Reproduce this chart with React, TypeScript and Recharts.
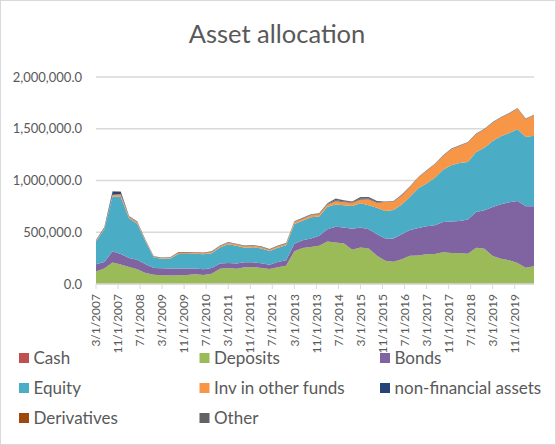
import React from 'react'
import { AreaChart, Area, XAxis, YAxis, CartesianGrid } from 'recharts'

// quarter-end dates of the series (year-month)
const quarterEnds = [
    '2007-03', '2007-06', '2007-09', '2007-12',
    '2008-03', '2008-06', '2008-09', '2008-12',
    '2009-03', '2009-06', '2009-09', '2009-12',
    '2010-03', '2010-06', '2010-09', '2010-12',
    '2011-03', '2011-06', '2011-09', '2011-12',
    '2012-03', '2012-06', '2012-09', '2012-12',
    '2013-03', '2013-06', '2013-09', '2013-12',
    '2014-03', '2014-06', '2014-09', '2014-12',
    '2015-03', '2015-06', '2015-09', '2015-12',
    '2016-03', '2016-06', '2016-09', '2016-12',
    '2017-03', '2017-06', '2017-09', '2017-12',
    '2018-03', '2018-06', '2018-09', '2018-12',
    '2019-03', '2019-06', '2019-09', '2019-12',
    '2020-03', '2020-06',
]

const cash = [
    0, 0, 0, 0, 0, 0, 0, 0, 0, 0, 0, 0, 0, 0, 0, 0, 0, 0, 0, 0, 0, 0, 0, 0, 0, 0, 0,
    0, 0, 0, 0, 0, 0, 0, 0, 0, 0, 0, 0, 0, 0, 0, 0, 0, 0, 0, 0, 0, 0, 0, 0, 0, 0, 0,
]
const deposits = [
    120000, 150000, 207000, 188000, 164000, 142000, 106000, 90000, 84000, 81000,
    84000, 87000, 93000, 88000, 100000, 148000, 155000, 148000, 161000, 165000,
    155000, 145000, 161000, 177000, 316000, 348000, 358000, 369000, 410000, 401000,
    391000, 330000, 353000, 343000, 272000, 224000, 215000, 240000, 272000, 275000,
    287000, 290000, 306000, 300000, 296000, 293000, 351000, 341000, 271000, 245000,
    229000, 203000, 158000, 171000,
]
const bonds = [
    70000, 62000, 109000, 102000, 87000, 93000, 84000, 64000, 68000, 68000,
    65000, 62000, 57000, 54000, 55000, 49000, 48000, 49000, 49000, 45000,
    45000, 42000, 52000, 52000, 74000, 75000, 82000, 96000, 119000, 153000,
    154000, 205000, 192000, 186000, 209000, 215000, 224000, 241000, 250000, 265000,
    270000, 277000, 293000, 305000, 313000, 329000, 345000, 371000, 473000, 525000,
    560000, 599000, 593000, 580000,
]
const equity = [
    220000, 315000, 531000, 551000, 385000, 346000, 219000, 101000, 92000, 98000,
    142000, 142000, 142000, 145000, 143000, 155000, 182000, 172000, 140000, 146000,
    144000, 132000, 137000, 146000, 190000, 188000, 205000, 186000, 218000, 215000,
    215000, 218000, 234000, 231000, 256000, 266000, 276000, 288000, 321000, 385000,
    413000, 460000, 506000, 542000, 560000, 557000, 579000, 605000, 638000, 657000,
    670000, 692000, 669000, 682000,
]
const otherFunds = [
    8000, 10000, 15000, 25000, 14000, 16000, 10000, 7000, 7000, 9000,
    12000, 12000, 12000, 12000, 12000, 13000, 14000, 14000, 14000, 14000,
    14000, 13000, 14000, 15000, 18000, 20000, 22000, 22000, 22000, 32000,
    32000, 32000, 38000, 58000, 48000, 87000, 80000, 87000, 95000, 103000,
    122000, 130000, 132000, 155000, 165000, 187000, 172000, 178000, 177000, 181000,
    187000, 201000, 172000, 197000,
]
const nonFinancial = [
    3000, 6000, 28000, 22000, 4000, 4000, 3000, 2000, 3000, 3000,
    3000, 3000, 3000, 3000, 3000, 3000, 3000, 3000, 3000, 3000,
    3000, 3000, 3000, 3000, 4000, 4000, 4000, 4000, 3000, 8000,
    5000, 4000, 7000, 7000, 5000, 2000, 2000, 3000, 2000, 2000,
    2000, 2000, 2000, 2000, 2000, 2000, 2000, 2000, 2000, 2000,
    2000, 2000, 2000, 2000,
]
const derivatives = [
    0, 0, 0, 0, 0, 0, 0, 0, 0, 0, 0, 0, 0, 0, 0, 0, 0, 0, 0, 0, 0, 0, 0, 0, 0, 0, 0,
    0, 0, 0, 0, 0, 0, 0, 0, 0, 0, 0, 0, 0, 0, 0, 0, 0, 0, 0, 0, 0, 0, 0, 0, 0, 0, 0,
]
const other = [
    4000, 5000, 5000, 5000, 4000, 4000, 3000, 3000, 3000, 3000,
    3000, 3000, 3000, 3000, 3000, 3000, 4000, 4000, 4000, 4000,
    4000, 4000, 4000, 4000, 4000, 4000, 4000, 6000, 7000, 17000,
    11000, 9000, 16000, 15000, 11000, 4000, 4000, 6000, 5000, 5000,
    4000, 4000, 4000, 4000, 4000, 4000, 4000, 4000, 4000, 4000,
    4000, 4000, 4000, 4000,
]

const dateTickLabels = [
    '3/1/2007', '11/1/2007', '7/1/2008', '3/1/2009', '11/1/2009',
    '7/1/2010', '3/1/2011', '11/1/2011', '7/1/2012', '3/1/2013',
    '11/1/2013', '7/1/2014', '3/1/2015', '11/1/2015', '7/1/2016',
    '3/1/2017', '11/1/2017', '7/1/2018', '3/1/2019', '11/1/2019',
]
const yTicks = [0, 500000, 1000000, 1500000, 2000000]

const series = [
    { key: 'cash', name: 'Cash', color: '#C0504D', values: cash },
    { key: 'deposits', name: 'Deposits', color: '#9BBB59', values: deposits },
    { key: 'bonds', name: 'Bonds', color: '#8064A2', values: bonds },
    { key: 'equity', name: 'Equity', color: '#4BACC6', values: equity },
    { key: 'otherFunds', name: 'Inv in other funds', color: '#F79646', values: otherFunds },
    { key: 'nonFinancial', name: 'non-financial assets', color: '#264478', values: nonFinancial },
    { key: 'derivatives', name: 'Derivatives', color: '#9E480E', values: derivatives },
    { key: 'other', name: 'Other', color: '#636363', values: other },
]

// months elapsed since March 2007, so the x axis behaves like Excel's date axis
const monthIndex = (year: number, month: number) => (year - 2007) * 12 + (month - 3)

const data = quarterEnds.map((q, i) => {
    const [y, m] = q.split('-').map(Number)
    const row: Record<string, number> = { m: monthIndex(y, m) }
    series.forEach((s) => {
        row[s.key] = s.values[i]
    })
    return row
})

const xTicks = dateTickLabels.map((label) => {
    const [m, , y] = label.split('/').map(Number)
    return monthIndex(y, m)
})

const FONT = 'Lato, "Open Sans", sans-serif'
const TEXT = '#595959'
const GRID = '#D9D9D9'

// eslint-disable-next-line @typescript-eslint/no-explicit-any
const DateTick = ({ x, y, payload }: any) => {
    const label = dateTickLabels[xTicks.indexOf(payload.value)]
    return (
        <text
            x={x}
            y={y}
            dy="0.35em"
            transform={`rotate(-90 ${x} ${y})`}
            textAnchor="end"
            fontSize={12}
            fontFamily={FONT}
            fill={TEXT}
        >
            {label}
        </text>
    )
}

const formatValue = (v: number) =>
    v.toLocaleString('en-US', { minimumFractionDigits: 1, maximumFractionDigits: 1 })

const legendCols = [19, 199.5, 380]

export default function App() {
    return (
        <div
            style={{
                position: 'absolute',
                left: 0,
                top: 0,
                width: 556,
                height: 445,
                background: '#fff',
                boxShadow: `inset 0 0 0 1px ${GRID}`,
                fontFamily: FONT,
            }}
        >
            <div style={{ position: 'absolute', left: 0, top: 0 }}>
                <AreaChart
                    width={556}
                    height={354}
                    data={data}
                    margin={{ top: 77, right: 22, bottom: 0, left: 0 }}
                >
                    <CartesianGrid vertical={false} stroke={GRID} strokeWidth={1.3} />
                    <XAxis
                        dataKey="m"
                        type="number"
                        domain={[0, 159]}
                        ticks={xTicks}
                        interval={0}
                        height={70}
                        tick={<DateTick />}
                        tickSize={5}
                        tickMargin={5}
                        axisLine={{ stroke: GRID, strokeWidth: 1.3 }}
                        tickLine={{ stroke: GRID }}
                    />
                    <YAxis
                        width={96}
                        domain={[0, 2000000]}
                        ticks={yTicks}
                        tickFormatter={formatValue}
                        tick={{ fontSize: 13, fill: TEXT, fontFamily: FONT }}
                        axisLine={false}
                        tickLine={false}
                        tickSize={0}
                        tickMargin={14}
                    />
                    {series.map((s) => (
                        <Area
                            key={s.key}
                            type="linear"
                            dataKey={s.key}
                            name={s.name}
                            stackId="1"
                            fill={s.color}
                            fillOpacity={1}
                            stroke="none"
                            isAnimationActive={false}
                        />
                    ))}
                </AreaChart>
            </div>
            <svg
                width={556}
                height={445}
                style={{ position: 'absolute', left: 0, top: 0, pointerEvents: 'none' }}
            >
                <text x={277} y={43} textAnchor="middle" fontSize={25.5} fill={TEXT} fontFamily={FONT}>
                    Asset allocation
                </text>
                {series.map((s, i) => {
                    const col = i % 3
                    const row = Math.floor(i / 3)
                    const x = legendCols[col]
                    const base = 363.5 + row * 30
                    return (
                        <g key={s.key}>
                            <rect x={x} y={base - 10.5} width={10} height={10} fill={s.color} />
                            <text x={x + 14.5} y={base} fontSize={17} fill={TEXT} fontFamily={FONT}>
                                {s.name}
                            </text>
                        </g>
                    )
                })}
            </svg>
        </div>
    )
}
